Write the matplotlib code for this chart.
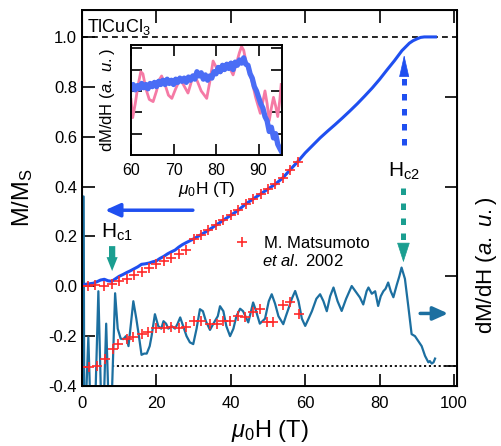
import matplotlib
matplotlib.use("Agg")
import matplotlib.pyplot as plt
from matplotlib.lines import Line2D

plt.rcParams['font.family'] = ['Liberation Sans', 'DejaVu Sans']
plt.rcParams['mathtext.fontset'] = 'custom'
plt.rcParams['mathtext.rm'] = 'Liberation Sans'
plt.rcParams['mathtext.it'] = 'Liberation Sans:italic'
plt.rcParams['mathtext.bf'] = 'Liberation Sans:bold'

# magnetization M/Ms (blue)
m_field = [0, 1, 2, 3, 4, 5, 6, 7, 8, 9, 10, 11, 12, 13, 14, 15, 16, 17, 18, 19,
           20, 21, 22, 23, 24, 25, 26, 27, 28, 30, 32, 34, 36, 38, 40, 42, 44, 46,
           48, 50, 52, 54, 56, 58, 60, 62, 64, 66, 68, 70, 72, 74, 76, 78, 80, 82,
           84, 85, 86, 87, 88, 89, 90, 91, 92, 95]
m_val = [0.005, 0.008, 0.01, 0.012, 0.018, 0.025, 0.028, 0.022, 0.02, 0.03, 0.04,
         0.047, 0.055, 0.062, 0.07, 0.078, 0.088, 0.09, 0.093, 0.098, 0.102, 0.112,
         0.12, 0.13, 0.138, 0.145, 0.157, 0.167, 0.175, 0.19, 0.207, 0.225, 0.245,
         0.265, 0.285, 0.305, 0.33, 0.35, 0.37, 0.39, 0.41, 0.435, 0.468, 0.5,
         0.535, 0.565, 0.595, 0.622, 0.648, 0.675, 0.703, 0.732, 0.763, 0.795,
         0.83, 0.868, 0.905, 0.925, 0.945, 0.96, 0.975, 0.985, 0.992, 0.998, 1.0, 1.0]

# Matsumoto et al. 2002, magnetization
mm_field = [0, 1.5, 3.5, 6, 8, 10, 12, 14, 16, 18, 20, 22, 24, 26, 28, 30, 32, 34,
            36, 38, 40, 42, 44, 46, 48, 50, 52, 54, 56, 58]
mm_val = [0.0, 0.003, 0.004, 0.0, 0.01, 0.021, 0.03, 0.046, 0.056, 0.072, 0.088,
          0.1, 0.115, 0.13, 0.147, 0.19, 0.207, 0.225, 0.245, 0.265, 0.285, 0.305,
          0.33, 0.35, 0.37, 0.39, 0.41, 0.435, 0.468, 0.5]

# Matsumoto et al. 2002, dM/dH (plotted in left-axis units)
md_field = [0, 2, 4, 6.2, 8.4, 9.8, 12, 13.8, 16, 17.8, 20, 22, 24, 26, 28, 30, 32,
            34.4, 36.2, 38, 39.8, 42, 43.8, 46, 47.8, 49.6, 51.4, 54.1, 55.9, 58.2]
md_val = [-0.324, -0.322, -0.32, -0.29, -0.252, -0.232, -0.212, -0.205, -0.192,
          -0.185, -0.169, -0.166, -0.165, -0.168, -0.165, -0.14, -0.14, -0.152,
          -0.153, -0.14, -0.139, -0.12, -0.122, -0.105, -0.092, -0.145, -0.145,
          -0.076, -0.065, -0.112]

# measured dM/dH (left-axis units)
d_field = [0.0, 0.15, 0.45, 0.6, 1.1, 1.7, 2.3, 3.5, 4.4, 5.2, 5.9, 6.5, 7.2, 8.0,
           8.9, 9.6, 10.4, 11.1, 11.8, 12.5, 13.8, 14.6, 15.3, 16.0, 16.7, 17.4,
           18.2, 18.7, 19.6, 20.5, 21.3, 21.9, 22.6, 23.2, 24.1, 25.0, 25.7, 26.4,
           27.2, 28.1, 29.0, 29.9, 30.8, 31.7, 32.5, 33.3, 34.4, 35.7, 36.5, 37.1,
           38.0, 38.8, 39.8, 40.7, 41.5, 42.5, 43.3, 44.7, 46.0, 46.8, 47.8, 48.5,
           49.2, 50.2, 51.0, 51.9, 52.8, 54.1, 54.8, 55.5, 56.4, 57.3, 58.2, 59.1,
           60.0, 60.9, 61.8, 63.0, 64.0, 64.9, 65.8, 66.7, 67.6, 68.7, 69.8, 71.0,
           72.5, 73.5, 74.7, 75.6, 76.5, 77.0, 77.9, 78.8, 79.6, 80.3, 81.0, 81.6,
           82.3, 83.0, 83.7, 84.6, 85.3, 85.9, 86.8, 87.7, 88.6, 89.5, 90.4, 91.3,
           92.2, 93.1, 93.5, 94.0, 94.5, 94.9]
d_val = [-0.5, 0.36, 0.36, -0.5, -0.45, -0.205, -0.5, -0.5, -0.02, -0.5, -0.45,
         -0.15, -0.5, -0.45, -0.028, -0.17, -0.21, -0.212, -0.2, -0.24, -0.06, -0.13,
         -0.2, -0.275, -0.27, -0.27, -0.24, -0.2, -0.112, -0.16, -0.17, -0.14, -0.15,
         -0.17, -0.16, -0.17, -0.15, -0.125, -0.16, -0.2, -0.225, -0.232, -0.17,
         -0.092, -0.1, -0.14, -0.175, -0.14, -0.12, -0.08, -0.1, -0.16, -0.2, -0.17,
         -0.12, -0.09, -0.1, -0.145, -0.065, -0.1, -0.15, -0.14, -0.13, -0.06,
         -0.032, -0.07, -0.12, -0.152, -0.12, -0.09, -0.05, -0.019, -0.06, -0.13,
         -0.159, -0.13, -0.1, -0.05, -0.032, -0.06, -0.1, -0.04, -0.005, -0.06,
         -0.099, -0.05, 0.001, -0.02, -0.045, -0.073, -0.02, -0.005, -0.03, -0.02,
         -0.079, -0.04, -0.02, -0.01, 0.015, -0.02, -0.044, 0.005, 0.04, 0.075, 0.03,
         -0.079, -0.192, -0.2, -0.22, -0.24, -0.279, -0.305, -0.3, -0.31, -0.305, -0.29]

# inset: dM/dH near saturation
ib_field = [60.0, 60.5, 61, 61.5, 62, 62.5, 63, 63.5, 64, 64.5, 65, 65.5, 66, 66.5,
            67, 67.5, 68, 68.5, 69, 69.5, 70, 70.5, 71, 71.5, 72, 72.5, 73, 73.5, 74,
            74.5, 75, 75.5, 76, 76.5, 77, 77.5, 78, 78.5, 79, 79.5, 80, 80.5, 81,
            81.5, 82, 82.5, 83, 83.5, 84, 84.5, 85, 85.5, 86, 86.5, 87, 87.5, 88,
            88.5, 89, 89.5, 90, 90.5, 91, 91.5, 92, 92.5, 93, 93.5, 94, 94.5, 95, 95.4]
ib_val = [3.1, 3.3, 3.05, 3.25, 3.1, 3.35, 3.15, 3.3, 3.1, 3.35, 3.2, 3.4, 3.2, 3.45,
          3.3, 3.5, 3.3, 3.55, 3.35, 3.5, 3.3, 3.55, 3.4, 3.6, 3.45, 3.6, 3.4, 3.65,
          3.5, 3.7, 3.55, 3.9, 3.7, 3.85, 3.55, 3.75, 3.5, 3.7, 3.6, 3.9, 3.8, 4.1,
          3.9, 4.2, 4.0, 4.25, 4.05, 4.3, 4.0, 4.35, 4.2, 4.45, 4.3, 4.55, 4.25, 4.2,
          3.8, 3.6, 3.2, 3.0, 2.7, 2.4, 2.2, 1.8, 1.6, 1.1, 1.3, 0.8, 1.0, 0.5, 0.3, 0.15]
ip_field = [60.0, 60.4, 61, 61.6, 62.3, 62.8, 63.5, 64.3, 65.2, 66, 66.6, 67.2, 68,
            68.8, 69.6, 70.5, 71.5, 72.3, 73.4, 74, 74.6, 75.5, 76.5, 77.8, 78.5,
            79.3, 79.8, 80.5, 81, 81.8, 82.8, 83.4, 84, 84.8, 85.5, 86, 86.5, 87.2,
            88.4, 89.3, 90.4, 91, 91.5, 92, 92.5, 93, 93.5, 94, 94.5, 95, 95.3]
ip_val = [2.6, 1.75, 2.4, 3.2, 3.9, 3.8, 3.1, 2.6, 2.5, 3.0, 3.5, 3.7, 3.3, 2.8, 2.65,
          3.1, 3.55, 3.3, 2.9, 3.3, 3.75, 3.5, 3.0, 2.65, 3.4, 4.4, 4.2, 3.9, 3.85,
          4.0, 4.3, 4.0, 3.75, 4.3, 4.8, 5.08, 4.9, 4.2, 3.5, 2.7, 1.95, 2.5, 3.0,
          2.4, 1.6, 2.2, 2.7, 2.3, 1.8, 2.6, 3.3]

blue = '#1f4ff0'
steel = '#1c6fa0'
teal = '#1a9e90'
red = '#ff2a2a'

fig = plt.figure(figsize=(5.01, 4.46), dpi=100)
ax = fig.add_axes([82/501, 60/446, 375/501, 376/446])

ax.axhline(1.0, color='k', lw=1.2, ls=(0, (3.5, 2.5)), zorder=1)
ax.hlines(-0.32, 8, 100.8, color='k', lw=1.3, ls=(0, (1.2, 1.5)), zorder=1)

ax.plot(d_field, d_val, color=steel, lw=1.6, zorder=2)
ax.plot(m_field, m_val, color=blue, lw=2.2, zorder=3)
ax.plot(md_field, md_val, ls='none', marker='+', ms=7, mew=1.2, color=red, zorder=4)
ax.plot(mm_field, mm_val, ls='none', marker='+', ms=7, mew=1.2, color=red, zorder=4)

ax.set_xlim(0, 100.8)
ax.set_ylim(-0.4, 1.108)
ax.set_xticks([0, 20, 40, 60, 80, 100])
ax.set_yticks([-0.4, -0.2, 0.0, 0.2, 0.4, 0.6, 0.8, 1.0])
ax.set_yticklabels(['-0.4', '-0.2', '0.0', '0.2', '0.4', '0.6', '0.8', '1.0'])
ax.tick_params(direction='in', length=9, width=1.2, top=True, right=False,
               labelsize=12)
ax.tick_params(axis='x', pad=7)
for s in ax.spines.values():
    s.set_linewidth(1.4)
ax.set_xlabel(r'$\mu_\mathrm{0}$H (T)', fontsize=17, labelpad=5)
ax.set_ylabel(r'M/M$_\mathrm{S}$', fontsize=17)
ax.yaxis.set_label_coords(-0.125, 0.5)

ax2 = ax.twinx()
ax2.set_ylim((-0.4 + 0.32) / 0.36, (1.108 + 0.32) / 0.36)
ax2.set_yticks([0, 1, 2, 3])
ax2.set_yticklabels([])
ax2.tick_params(direction='in', length=9, width=1.2)
ax2.set_ylabel(r'dM/dH ($\mathit{a.\ u.}$)', fontsize=16)
ax2.yaxis.set_label_coords(1.045, 0.322)

# arrows and labels
arr = '-|>,head_length=0.6,head_width=0.27'
ax.annotate('', xy=(6.2, 0.305), xytext=(29.8, 0.305),
            arrowprops=dict(arrowstyle=arr, color=blue, lw=2.5, mutation_scale=15,
                            shrinkA=0, shrinkB=0))
ax.annotate('', xy=(98.4, -0.109), xytext=(90.9, -0.109),
            arrowprops=dict(arrowstyle=arr, color=steel, lw=2.5, mutation_scale=15,
                            shrinkA=0, shrinkB=0))
ax.annotate('', xy=(8.1, 0.061), xytext=(8.1, 0.161),
            arrowprops=dict(arrowstyle='simple,head_length=1.0,head_width=0.8,tail_width=0.45',
                            color=teal, lw=0, mutation_scale=10, shrinkA=0, shrinkB=0))
ax.text(5.0, 0.216, r'H$_\mathrm{c1}$', fontsize=15, ha='left', va='center')

ax.plot([86.6, 86.6], [0.568, 0.85], color=blue, lw=3.6,
        ls=(0, (1.3, 1.7)), dash_capstyle='butt')
ax.annotate('', xy=(86.6, 0.928), xytext=(86.6, 0.848),
            arrowprops=dict(arrowstyle='-|>,head_length=1.45,head_width=0.33',
                            color=blue, lw=0.5, mutation_scale=10, shrinkA=0, shrinkB=0))
ax.plot([86.4, 86.4], [0.396, 0.17], color=teal, lw=3.6,
        ls=(0, (1.3, 1.7)), dash_capstyle='butt')
ax.annotate('', xy=(86.4, 0.096), xytext=(86.4, 0.168),
            arrowprops=dict(arrowstyle='-|>,head_length=1.3,head_width=0.42',
                            color=teal, lw=0.5, mutation_scale=10, shrinkA=0, shrinkB=0))
ax.text(86.6, 0.46, r'H$_\mathrm{c2}$', fontsize=15, ha='center', va='center')

ax.text(1.3, 1.04, r'TlCuCl$_\mathrm{3}$', fontsize=13, ha='left', va='center')

h = Line2D([], [], ls='none', marker='+', ms=7, mew=1.2, color=red)
ax.legend([h], ['M. Matsumoto'], loc='center left', bbox_to_anchor=(0.4045, 0.3795),
          frameon=False, fontsize=12, handlelength=1.0, handletextpad=0.8,
          borderpad=0, borderaxespad=0)
ax.text(48.3, 0.1, r'$\mathit{et\ al.}$ 2002', fontsize=12, ha='left', va='center')

# inset
ins = fig.add_axes([131/501, 291/446, 151/501, 110/446])
ins.plot(ip_field, ip_val, color='#f57aa5', lw=2)
ins.plot(ib_field, ib_val, color='#4a6df5', lw=3.8)
ins.set_xlim(60, 95.5)
ins.set_ylim(0, 5.15)
ins.set_xticks([60, 70, 80, 90])
ins.set_yticks([1, 2, 3, 4, 5])
ins.set_yticklabels([])
ins.tick_params(direction='in', length=8, width=1.2, top=True, right=True,
                labelsize=11.5, pad=6)
for s in ins.spines.values():
    s.set_linewidth(1.4)
ins.set_xlabel(r'$\mu_\mathrm{0}$H (T)', fontsize=12.5, labelpad=1)
ins.set_ylabel(r'dM/dH ($\mathit{a.\ u.}$)', fontsize=12, labelpad=4)

fig.savefig('out.png', dpi=100)
